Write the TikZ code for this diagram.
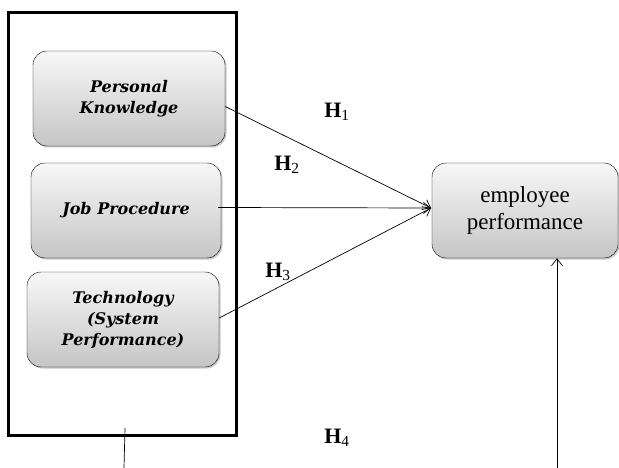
\documentclass[tikz,border=0pt]{standalone}
\usepackage{fontspec}
\setmainfont{Liberation Serif}
\newfontfamily\boxfont{DejaVu Serif}
\usetikzlibrary{positioning,arrows.meta,shadows}

\begin{document}
\begin{tikzpicture}[x=1pt,y=-1pt,
  >={Straight Barb[length=7pt,width=11pt]},
  factor/.style={draw, rounded corners=14pt, top color=gray!6, bottom color=gray!45,
    drop shadow={shadow xshift=1.5pt, shadow yshift=-1.5pt, fill=gray!70, opacity=.6},
    minimum width=192, minimum height=95, align=center,
    font=\boxfont\bfseries\itshape\fontsize{16}{21}\selectfont},
  hyp/.style={inner sep=0pt, font=\bfseries\fontsize{22}{22}\selectfont},
  link/.style={->, line width=0.7pt}
  ]
  \useasboundingbox (0,0) rectangle (619,468);

  \node[draw, line width=3pt, minimum width=228, minimum height=422] (group) at (122,224) {};

  \node[factor] (know) at (129,98.5) {Personal\\Knowledge};
  \node[factor, minimum width=190] (proc) at (126,210.5) {Job Procedure};
  \node[factor] (tech) at (123,319.5) {Technology\\(System\\Performance)};

  \node[factor, minimum width=186, font=\fontsize{23}{27}\selectfont] (perf) at (525,210.5) {employee\\performance};

  \node[hyp] (h1) at (337,112) {H\textsubscript{\mdseries 1}};
  \node[hyp] (h2) at (287,165) {H\textsubscript{\mdseries 2}};
  \node[hyp] (h3) at (278,272) {H\textsubscript{\mdseries 3}};
  \node[hyp] (h4) at (337,438) {H\textsubscript{\mdseries 4}};

  \coordinate (meet) at (431,208);
  \coordinate (down) at (124,468);
  \coordinate (up) at (557,468);

  \draw[link] ([yshift=-8pt]know.east) -- (meet);
  \draw[link] ([xshift=-3pt,yshift=3pt]proc.east) -- (meet);
  \draw[link] ([yshift=1.5pt]tech.east) -- (meet);
  \draw[line width=0.7pt] (125,428) -- (down);
  \draw[link] (up) -- (perf.south -| up);

\end{tikzpicture}
\end{document}
